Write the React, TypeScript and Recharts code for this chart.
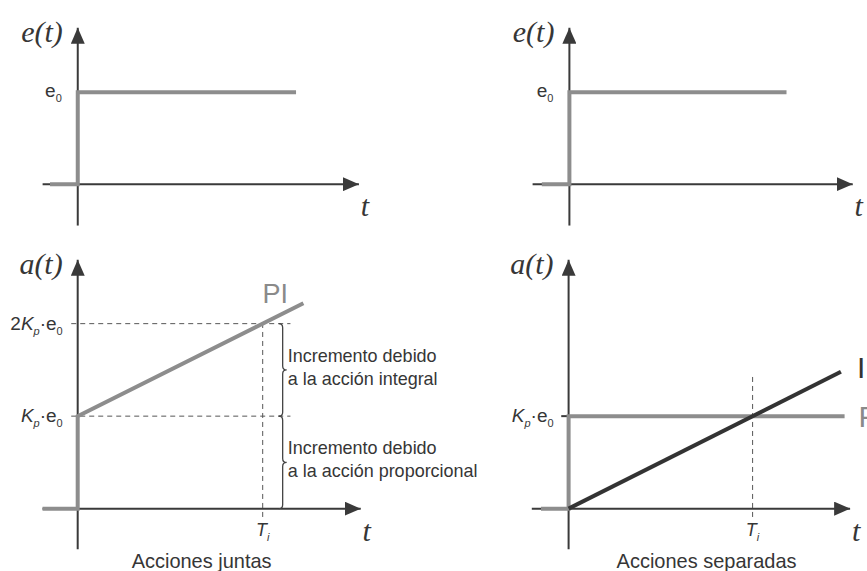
import React from 'react';
import { ComposedChart, Line, XAxis, YAxis, ReferenceLine, ReferenceDot } from 'recharts';

// time in units of Ti, amplitude in units of e0 (top) or Kp·e0 (bottom)
const stepT = [-0.15, 0, 0, 1.18];
const stepE = [0, 0, 1, 1];

const piT = [-0.19, 0, 0, 1.22];
const piA = [0, 0, 1, 2.22];

const pT = [-0.15, 0, 0, 1.5];
const pA = [0, 0, 1, 1];

const iT = [0, 1.48];
const iA = [0, 1.48];

const Ti = 1;
const kpLevel = 1;
const twoKpLevel = 2;

const topAxisY = [-0.45, 1.7];
const botAxisY = [-0.44, 2.69];

const notes = [
  ['Incremento debido', 'a la acción integral'],
  ['Incremento debido', 'a la acción proporcional'],
];
const captions = ['Acciones juntas', 'Acciones separadas'];

const toRows = (xs: number[], ys: number[]) => xs.map((x, i) => ({ x, y: ys[i] }));

const AXIS = '#3a3a3a';
const GREY = '#8d8d8d';
const DARK = '#333333';
const TEXT = '#363636';
const SANS = '"Liberation Sans", Arial, sans-serif';
const SERIF = '"Liberation Serif", "Times New Roman", serif';

type Frame = { x0: number; y0: number; sx: number; sy: number; xDom: number[]; yDom: number[] };

const frames: Record<string, Frame> = {
  tl: { x0: 78, y0: 184, sx: 185, sy: 92, xDom: [-0.35, 1.75], yDom: [-0.55, 1.98] },
  tr: { x0: 569, y0: 184, sx: 184, sy: 92, xDom: [-0.35, 1.61], yDom: [-0.55, 1.98] },
  bl: { x0: 78, y0: 509, sx: 185, sy: 92.5, xDom: [-0.42, 2.25], yDom: [-0.75, 2.98] },
  br: { x0: 569, y0: 509, sx: 184, sy: 92.5, xDom: [-0.4, 1.62], yDom: [-0.75, 2.98] },
};

const Panel = ({ f, children }: { f: Frame; children: React.ReactNode }) => {
  const left = f.x0 + f.xDom[0] * f.sx;
  const width = (f.xDom[1] - f.xDom[0]) * f.sx;
  const top = f.y0 - f.yDom[1] * f.sy;
  const height = (f.yDom[1] - f.yDom[0]) * f.sy;
  return (
    <div style={{ position: 'absolute', left, top }}>
      <ComposedChart width={width} height={height} margin={{ top: 0, right: 0, bottom: 0, left: 0 }}>
        <XAxis type="number" dataKey="x" domain={f.xDom} hide allowDataOverflow />
        <YAxis type="number" dataKey="y" domain={f.yDom} hide allowDataOverflow />
        {children}
      </ComposedChart>
    </div>
  );
};

const arrowLine = (p: any) => (
  <line x1={p.x1} y1={p.y1} x2={p.x2} y2={p.y2} stroke={AXIS} strokeWidth={2} markerEnd="url(#axisArrow)" />
);

const dashed = { stroke: '#555', strokeWidth: 1, strokeDasharray: '5 4' };

const brace = (p: any) => {
  const x = p.x1;
  const y1 = Math.min(p.y1, p.y2);
  const y2 = Math.max(p.y1, p.y2);
  const ym = (y1 + y2) / 2;
  const w = 4;
  const d = `M ${x - w} ${y1} Q ${x} ${y1} ${x} ${y1 + w} L ${x} ${ym - w} Q ${x} ${ym} ${x + w} ${ym} Q ${x} ${ym} ${x} ${ym + w} L ${x} ${y2 - w} Q ${x} ${y2} ${x - w} ${y2}`;
  return <path d={d} fill="none" stroke="#444" strokeWidth={1.3} />;
};

const txt = (content: React.ReactNode, opts: any = {}) => (p: any) => (
  <text
    x={p.cx + (opts.dx || 0)}
    y={p.cy + (opts.dy || 0)}
    textAnchor={opts.anchor || 'start'}
    fontFamily={opts.family || SANS}
    fontSize={opts.size || 17}
    fontStyle={opts.italic ? 'italic' : 'normal'}
    fill={opts.fill || TEXT}
  >
    {content}
  </text>
);

const Sub = ({ children, italic }: { children: React.ReactNode; italic?: boolean }) => (
  <tspan fontSize={11} dy={5} fontStyle={italic ? 'italic' : 'normal'}>{children}</tspan>
);

const e0Label = (
  <>
    <tspan>e</tspan>
    <Sub>0</Sub>
  </>
);
const kpLabel = (prefix: string) => (
  <>
    <tspan>{prefix}</tspan>
    <tspan fontStyle="italic">K</tspan>
    <Sub italic>p</Sub>
    <tspan dy={-5}>·e</tspan>
    <Sub>0</Sub>
  </>
);
const tiLabel = (
  <>
    <tspan fontStyle="italic">T</tspan>
    <Sub italic>i</Sub>
  </>
);

const axes = (ax: number[], ay: number[], yName: string) => [
  <ReferenceLine key="ax" segment={[{ x: ax[0], y: 0 }, { x: ax[1], y: 0 }]} shape={arrowLine} />,
  <ReferenceLine key="ay" segment={[{ x: 0, y: ay[0] }, { x: 0, y: ay[1] }]} shape={arrowLine} />,
  <ReferenceDot key="ly" x={0} y={ay[1]} r={0} shape={txt(yName, { family: SERIF, italic: true, size: 30, anchor: 'end', dx: -15, dy: 14 })} />,
  <ReferenceDot key="lx" x={ax[1]} y={0} r={0} shape={txt('t', { family: SERIF, italic: true, size: 30, anchor: 'middle', dx: 6, dy: 32 })} />,
];

const TopPanel = ({ f, axX }: { f: Frame; axX: number[] }) => (
  <Panel f={f}>
    {axes(axX, topAxisY, 'e(t)')}
    <Line data={toRows(stepT, stepE)} dataKey="y" stroke={GREY} strokeWidth={4} strokeLinejoin="miter" dot={false} isAnimationActive={false} />
    <ReferenceDot x={0} y={1} r={0} shape={txt(e0Label, { size: 19, anchor: 'end', dx: -16, dy: 5 })} />
  </Panel>
);

export default function App() {
  return (
    <div style={{ position: 'absolute', left: 0, top: 0, width: 867, height: 571, background: '#fff', overflow: 'hidden' }}>
      <svg width={0} height={0} style={{ position: 'absolute' }}>
        <defs>
          <marker id="axisArrow" viewBox="0 0 16 14" refX={16} refY={7} markerWidth={16} markerHeight={14} markerUnits="userSpaceOnUse" orient="auto">
            <path d="M 0 0 L 16 7 L 0 14 Z" fill={AXIS} />
          </marker>
        </defs>
      </svg>

      <TopPanel f={frames.tl} axX={[-0.19, 1.52]} />
      <TopPanel f={frames.tr} axX={[-0.2, 1.54]} />

      <Panel f={frames.bl}>
        <ReferenceLine segment={[{ x: -0.035, y: kpLevel }, { x: 1.15, y: kpLevel }]} {...dashed} />
        <ReferenceLine segment={[{ x: -0.035, y: twoKpLevel }, { x: 1.15, y: twoKpLevel }]} {...dashed} />
        <ReferenceLine segment={[{ x: Ti, y: -0.09 }, { x: Ti, y: twoKpLevel }]} {...dashed} />
        {axes([-0.19, 1.53], botAxisY, 'a(t)')}
        <Line data={toRows(piT, piA)} dataKey="y" stroke={GREY} strokeWidth={4} strokeLinejoin="miter" dot={false} isAnimationActive={false} />
        <ReferenceDot x={piT[3]} y={piA[3]} r={0} shape={txt('PI', { size: 27, fill: '#8a8a8a', dx: -41, dy: 0 })} />
        <ReferenceLine segment={[{ x: 1.108, y: kpLevel }, { x: 1.108, y: twoKpLevel }]} shape={brace} />
        <ReferenceLine segment={[{ x: 1.108, y: 0 }, { x: 1.108, y: kpLevel }]} shape={brace} />
        <ReferenceDot x={1.135} y={twoKpLevel} r={0} shape={txt(notes[0][0], { size: 18, dy: 38 })} />
        <ReferenceDot x={1.135} y={twoKpLevel} r={0} shape={txt(notes[0][1], { size: 18, dy: 61 })} />
        <ReferenceDot x={1.135} y={kpLevel} r={0} shape={txt(notes[1][0], { size: 18, dy: 38 })} />
        <ReferenceDot x={1.135} y={kpLevel} r={0} shape={txt(notes[1][1], { size: 18, dy: 61 })} />
        <ReferenceDot x={0} y={kpLevel} r={0} shape={txt(kpLabel(''), { size: 19, anchor: 'end', dx: -15, dy: 6 })} />
        <ReferenceDot x={0} y={twoKpLevel} r={0} shape={txt(kpLabel('2'), { size: 19, anchor: 'end', dx: -15, dy: 6 })} />
        <ReferenceDot x={Ti} y={0} r={0} shape={txt(tiLabel, { size: 18, anchor: 'middle', dy: 27 })} />
        <ReferenceDot x={0.67} y={0} r={0} shape={txt(captions[0], { size: 20, anchor: 'middle', dy: 59 })} />
      </Panel>

      <Panel f={frames.br}>
        <ReferenceLine segment={[{ x: Ti, y: -0.09 }, { x: Ti, y: 1.45 }]} {...dashed} />
        <ReferenceLine segment={[{ x: -0.04, y: kpLevel }, { x: 0, y: kpLevel }]} stroke={AXIS} strokeWidth={2} />
        {axes([-0.2, 1.53], botAxisY, 'a(t)')}
        <Line data={toRows(pT, pA)} dataKey="y" stroke={GREY} strokeWidth={4} strokeLinejoin="miter" dot={false} isAnimationActive={false} />
        <Line data={toRows(iT, iA)} dataKey="y" stroke={DARK} strokeWidth={4} dot={false} isAnimationActive={false} />
        <ReferenceDot x={iT[1]} y={iA[1]} r={0} shape={txt('I', { size: 30, fill: DARK, dx: 16, dy: 6 })} />
        <ReferenceDot x={pT[3]} y={pA[3]} r={0} shape={txt('P', { size: 30, fill: '#8a8a8a', dx: 14, dy: 11 })} />
        <ReferenceDot x={0} y={kpLevel} r={0} shape={txt(kpLabel(''), { size: 19, anchor: 'end', dx: -15, dy: 6 })} />
        <ReferenceDot x={Ti} y={0} r={0} shape={txt(tiLabel, { size: 18, anchor: 'middle', dy: 27 })} />
        <ReferenceDot x={0.75} y={0} r={0} shape={txt(captions[1], { size: 20, anchor: 'middle', dy: 59 })} />
      </Panel>
    </div>
  );
}
